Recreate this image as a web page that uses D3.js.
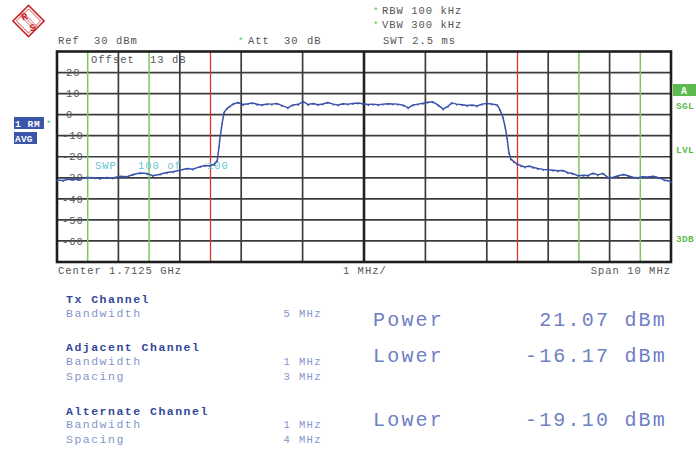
<!DOCTYPE html>
<html><head><meta charset="utf-8">
<script src="https://cdn.jsdelivr.net/npm/d3@7"></script>
<style>
html,body{margin:0;padding:0;background:#fff;}
svg{display:block;}
text{font-family:"Liberation Mono","DejaVu Sans Mono",monospace;}
</style></head>
<body>
<script>
// ---- data ----
const freqMHz = [-5.0,-4.9,-4.79,-4.66,-4.51,-4.38,-4.30,-4.19,-4.09,-3.97,-3.86,-3.76,-3.65,-3.53,-3.44,-3.32,-3.21,-3.11,-3.0,-2.88,-2.79,-2.67,-2.59,-2.51,-2.44,-2.39,-2.36,-2.35,-2.31,-2.28,-2.23,-2.18,-2.13,-2.05,-1.97,-1.89,-1.82,-1.74,-1.66,-1.58,-1.50,-1.42,-1.34,-1.24,-1.16,-1.07,-0.99,-0.91,-0.83,-0.75,-0.67,-0.59,-0.50,-0.42,-0.34,-0.26,-0.18,-0.10,-0.02,0.07,0.15,0.23,0.31,0.39,0.47,0.55,0.64,0.72,0.80,0.88,0.96,1.04,1.12,1.21,1.29,1.37,1.43,1.51,1.60,1.68,1.76,1.84,1.92,2.0,2.08,2.17,2.21,2.26,2.30,2.33,2.36,2.39,2.44,2.49,2.56,2.62,2.69,2.75,2.83,2.92,3.0,3.08,3.16,3.24,3.32,3.40,3.49,3.57,3.65,3.73,3.81,3.89,3.97,4.06,4.14,4.23,4.30,4.38,4.46,4.54,4.62,4.71,4.79,4.89,5.0];
const traceDbm = [-31.0,-31.3,-30.6,-30.8,-29.8,-30.0,-30.3,-29.9,-30.1,-29.3,-29.5,-28.4,-27.7,-28.0,-29.0,-28.3,-27.5,-27.1,-26.4,-25.6,-25.9,-24.7,-24.2,-24.3,-23.6,-21.8,-15,-12,-4,1.0,3.0,4.0,5.1,5.8,4.8,5.2,5.6,4.9,4.6,5.1,5.0,5.3,4.4,3.2,4.6,4.9,6.2,4.8,5.3,4.7,5.1,5.8,5.0,4.6,5.2,5.0,5.3,5.5,5.2,4.8,5.0,4.7,5.0,5.2,5.1,5.0,4.5,3.2,4.6,5.0,5.4,5.9,6.1,4.5,2.6,4.0,5.6,5.0,4.7,4.3,4.6,4.1,5.0,5.3,5.1,4.6,2.5,-1.0,-6,-11,-18,-21,-22.3,-23.4,-24.3,-24.9,-24.4,-25.0,-25.6,-26.0,-26.2,-26.4,-26.7,-26.5,-27.6,-28.0,-29.0,-28.8,-28.9,-27.8,-28.6,-27.9,-29.8,-29.7,-29.0,-28.4,-29.0,-29.7,-30.0,-29.5,-29.6,-29.3,-29.9,-31.0,-31.8];
const yTickValues = [20,10,0,-10,-20,-30,-40,-50,-60];
const xGridMHz = [-4,-3,-2,-1,0,1,2,3,4];
const txEdgesMHz = [-2.5,2.5];
const adjEdgesMHz = [-4.5,-3.5,3.5,4.5];
const leftLabels = [["Tx Channel","h"],["Bandwidth","l","5 MHz"],["Adjacent Channel","h"],["Bandwidth","l","1 MHz"],["Spacing","l","3 MHz"],["Alternate Channel","h"],["Bandwidth","l","1 MHz"],["Spacing","l","4 MHz"]];
const leftBaselines = [303,317,351,365,380,415,428,443];
const resultNames = ["Power","Lower","Lower"];
const resultValues = ["21.07 dBm","-16.17 dBm","-19.10 dBm"];
const resultBaselines = [326,362,426];

// ---- drawing ----
const W=696,H=450;
const svg=d3.select("body").append("svg").attr("width",W).attr("height",H);
const L=57,R=671,T=51.5,B=262;
const x=d3.scaleLinear().domain([-5,5]).range([L,R]);
const y=d3.scaleLinear().domain([-70,30]).range([B,T]);

// grid
const g=svg.append("g");
g.selectAll("line.hg").data(d3.range(-60,30,10)).join("line")
 .attr("x1",L).attr("x2",R).attr("y1",d=>y(d)).attr("y2",d=>y(d))
 .attr("stroke","#3c3c3c").attr("stroke-width",1.7);
g.selectAll("line.vg").data(xGridMHz).join("line")
 .attr("y1",T).attr("y2",B).attr("x1",d=>x(d)).attr("x2",d=>x(d))
 .attr("stroke",d=>d===0?"#222":"#3c3c3c").attr("stroke-width",d=>d===0?2.6:1.7);

// channel lines
g.selectAll("line.adj").data(adjEdgesMHz).join("line")
 .attr("y1",T).attr("y2",B).attr("x1",d=>x(d)).attr("x2",d=>x(d))
 .attr("stroke","#7cc860").attr("stroke-width",1.5);
g.selectAll("line.tx").data(txEdgesMHz).join("line")
 .attr("y1",T).attr("y2",B).attr("x1",d=>x(d)).attr("x2",d=>x(d))
 .attr("stroke","#e53030").attr("stroke-width",1.3);

// y tick labels inside
g.selectAll("text.yt").data(yTickValues).join("text")
 .attr("x",d=>d<0?62:66).attr("y",d=>y(d)).attr("dy","0.35em")
 .attr("font-size",10.5).attr("letter-spacing",0.9).attr("fill","#555")
 .text(d=>d);

// frame
svg.append("rect").attr("x",L).attr("y",T).attr("width",R-L).attr("height",B-T)
 .attr("fill","none").attr("stroke","#1e1e1e").attr("stroke-width",2.6);

function txt(s,xx,yy,opt){
  const t=svg.append("text").attr("x",xx).attr("y",yy).text(s)
   .attr("font-size",opt.size||10.5).attr("letter-spacing",opt.ls!=null?opt.ls:1.0)
   .attr("fill",opt.fill||"#555");
  if(opt.anchor) t.attr("text-anchor",opt.anchor);
  if(opt.weight) t.attr("font-weight",opt.weight);
  return t;
}
txt("Offset",91,63,{});
txt("13",150,63,{});
txt("dB",172,63,{});
txt("SWP",95,169,{fill:"#66c6cf"});
txt("100 of",138,169,{fill:"#66c6cf"});
txt("100",207,169,{fill:"#66c6cf"});

// trace
const line=d3.line().x((d,i)=>x(freqMHz[i])).y(d=>y(d));
svg.append("path").datum(traceDbm).attr("d",line)
 .attr("fill","none").attr("stroke","#3a52a6").attr("stroke-width",1.5)
 .attr("stroke-linejoin","round");
svg.selectAll("circle.mk").data(traceDbm).join("circle")
 .attr("cx",(d,i)=>x(freqMHz[i])).attr("cy",d=>y(d)+0.8).attr("r",0.8).attr("fill","#3a52a6");

// header texts
txt("Ref",58,44,{});
txt("30",94,44,{});
txt("dBm",116,44,{});
txt("*",238,44,{fill:"#5cbf4a",size:9});
txt("Att",248,44,{});
txt("30",284,44,{});
txt("dB",307,44,{});
txt("*",373,14,{fill:"#5cbf4a",size:9});
txt("RBW 100 kHz",382,14,{});
txt("*",373,28,{fill:"#5cbf4a",size:9});
txt("VBW 300 kHz",382,28,{});
txt("SWT 2.5 ms",383,44,{});

// bottom axis texts
txt("Center 1.7125 GHz",58,274,{});
txt("1 MHz/",343,274,{});
txt("Span 10 MHz",671,274,{anchor:"end"});

// left side boxes
svg.append("rect").attr("x",14).attr("y",117).attr("width",30).attr("height",12).attr("fill","#3b55a8");
txt("1 RM",15,127,{fill:"#fff",weight:"bold",size:9.5,ls:0.6});
txt("*",46,127,{fill:"#5cbf4a",size:9});
svg.append("rect").attr("x",14).attr("y",132).attr("width",23).attr("height",12).attr("fill","#3b55a8");
txt("AVG",15,142,{fill:"#fff",weight:"bold",size:9.5,ls:0.2});

// right side
svg.append("rect").attr("x",673).attr("y",84).attr("width",23).attr("height",12).attr("fill","#5cbb4c");
txt("A",681,94,{fill:"#fff",weight:"bold",size:10});
txt("SGL",676,109,{fill:"#5cbb4c",weight:"bold",size:9.5,ls:0.3});
txt("LVL",676,153,{fill:"#5cbb4c",weight:"bold",size:9.5,ls:0.3});
txt("3DB",676,242,{fill:"#5cbb4c",weight:"bold",size:9.5,ls:0.3});

// R&S logo
const logo=svg.append("g").attr("transform","translate(28.5,21)");
logo.append("rect").attr("x",-11).attr("y",-11).attr("width",22).attr("height",22)
 .attr("transform","rotate(45)").attr("fill","none").attr("stroke","#c8282c").attr("stroke-width",1.6);
logo.append("rect").attr("x",-8.5).attr("y",-8.5).attr("width",17).attr("height",17)
 .attr("transform","rotate(45)").attr("fill","none").attr("stroke","#c8282c").attr("stroke-width",0.8);
[-1.5,0,1.5].forEach(o=>logo.append("line").attr("x1",-8+o).attr("y1",-8-o).attr("x2",8+o).attr("y2",8-o)
 .attr("stroke","#c8282c").attr("stroke-width",0.7));
logo.append("text").attr("x",-4).attr("y",-1).attr("text-anchor","middle").attr("font-size",10).attr("font-weight","bold")
 .attr("fill","#c8282c").attr("transform","rotate(-20,-4,-4)").text("R");
logo.append("text").attr("x",4).attr("y",10).attr("text-anchor","middle").attr("font-size",10).attr("font-weight","bold")
 .attr("fill","#c8282c").attr("transform","rotate(-20,4,6)").text("S");

// channel table
leftLabels.forEach((r,i)=>{
  const yy=leftBaselines[i];
  if(r[1]==="h") txt(r[0],66,yy,{fill:"#34489a",weight:"bold",size:11.5,ls:1.5});
  else {
    txt(r[0],66,yy,{fill:"#8595cc",size:11.5,ls:1.5});
    txt(r[2],322,yy,{fill:"#8595cc",size:10.5,ls:1.4,anchor:"end"});
  }
});
resultNames.forEach((n,i)=>{
  txt(n,373,resultBaselines[i],{fill:"#6f80c2",size:20,ls:2.2});
  txt(resultValues[i],667,resultBaselines[i],{fill:"#6f80c2",size:20,ls:2.2,anchor:"end"});
});
</script>
</body></html>
